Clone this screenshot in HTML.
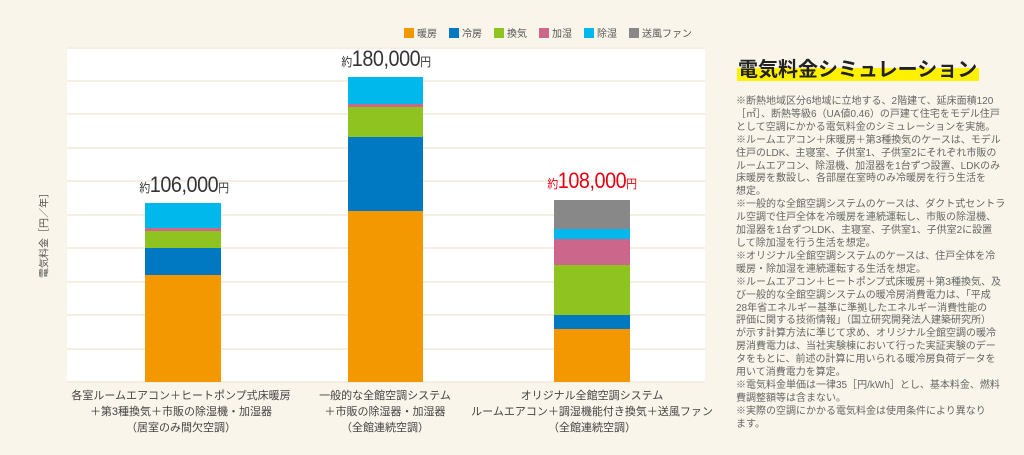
<!DOCTYPE html>
<html><head><meta charset="utf-8"><style>
body{margin:0;width:1024px;height:455px;background:#f9f5ea;position:relative;overflow:hidden;font-family:"Liberation Sans","Noto Sans CJK JP",sans-serif;}
.a{position:absolute;}
.plot{left:67px;top:47px;width:638px;height:335px;background:#fff;}
.g{position:absolute;left:0;width:638px;height:2px;background:#f5efe2;}
.seg{position:absolute;}
.leg{top:25px;font-size:10px;color:#555;white-space:nowrap;}
.leg span.s{display:inline-block;width:10px;height:10px;vertical-align:-1px;margin-right:3px;}
.leg b{font-weight:normal;margin-right:12px;}
.val{font-size:22px;color:#333;white-space:nowrap;transform:translateX(-50%) scaleX(0.9);font-weight:normal;letter-spacing:-0.5px}
.val small{font-size:12px;}
.xl{font-size:11px;color:#444;text-align:center;line-height:16px;white-space:nowrap;transform:translateX(-50%);}
.txt{left:736px;top:96px;font-size:10px;line-height:12.9px;color:#666;white-space:nowrap;}
</style></head><body>
<div class="a plot">
<div class="g" style="top:0"></div><div class="g" style="top:33px"></div><div class="g" style="top:66px"></div><div class="g" style="top:100px"></div><div class="g" style="top:133px"></div><div class="g" style="top:167px"></div><div class="g" style="top:200px"></div><div class="g" style="top:234px"></div><div class="g" style="top:267px"></div><div class="g" style="top:301px"></div><div class="g" style="top:334px"></div>
</div>
<!-- bar1 -->
<div class="a seg" style="left:145px;width:76px;top:203px;height:25px;background:#00b8ec"></div>
<div class="a seg" style="left:145px;width:76px;top:228px;height:3px;background:#cc668a"></div>
<div class="a seg" style="left:145px;width:76px;top:231px;height:17px;background:#8fc31f"></div>
<div class="a seg" style="left:145px;width:76px;top:248px;height:27px;background:#0079c2"></div>
<div class="a seg" style="left:145px;width:76px;top:275px;height:107px;background:#f39800"></div>
<!-- bar2 -->
<div class="a seg" style="left:348px;width:75px;top:77px;height:27px;background:#00b8ec"></div>
<div class="a seg" style="left:348px;width:75px;top:104px;height:3px;background:#cc668a"></div>
<div class="a seg" style="left:348px;width:75px;top:107px;height:30px;background:#8fc31f"></div>
<div class="a seg" style="left:348px;width:75px;top:137px;height:74px;background:#0079c2"></div>
<div class="a seg" style="left:348px;width:75px;top:211px;height:171px;background:#f39800"></div>
<!-- bar3 -->
<div class="a seg" style="left:554px;width:76px;top:200px;height:29px;background:#888"></div>
<div class="a seg" style="left:554px;width:76px;top:229px;height:10px;background:#00b8ec"></div>
<div class="a seg" style="left:554px;width:76px;top:239px;height:26px;background:#cc668a"></div>
<div class="a seg" style="left:554px;width:76px;top:265px;height:50px;background:#8fc31f"></div>
<div class="a seg" style="left:554px;width:76px;top:315px;height:14px;background:#0079c2"></div>
<div class="a seg" style="left:554px;width:76px;top:329px;height:53px;background:#f39800"></div>

<div class="a leg" style="left:404px"><span class="s" style="background:#f39800"></span><b>暖房</b><span class="s" style="background:#0079c2"></span><b>冷房</b><span class="s" style="background:#8fc31f"></span><b>換気</b><span class="s" style="background:#cc668a"></span><b>加湿</b><span class="s" style="background:#00b8ec"></span><b>除湿</b><span class="s" style="background:#888"></span><b style="margin:0">送風ファン</b></div>

<div class="a val" style="left:184px;top:172px"><small>約</small>106,000<small>円</small></div>
<div class="a val" style="left:386px;top:46px"><small>約</small>180,000<small>円</small></div>
<div class="a val" style="left:592px;top:168px;color:#e60012"><small>約</small>108,000<small>円</small></div>

<div class="a" style="left:43px;top:233px;transform:translate(-50%,-50%) rotate(-90deg);font-size:10px;color:#555;white-space:nowrap">電気料金［円／年］</div>

<div class="a xl" style="left:181px;top:388px">各室ルームエアコン＋ヒートポンプ式床暖房<br>＋第3種換気＋市販の除湿機・加湿器<br>（居室のみ間欠空調）</div>
<div class="a xl" style="left:385px;top:388px">一般的な全館空調システム<br>＋市販の除湿器・加湿器<br>（全館連続空調）</div>
<div class="a xl" style="left:592px;top:388px">オリジナル全館空調システム<br>ルームエアコン＋調湿機能付き換気＋送風ファン<br>（全館連続空調）</div>

<div class="a" style="left:737px;top:68px;width:242px;height:13px;background:#fff100"></div>
<div class="a" style="left:738px;top:53px;font-size:20px;font-weight:bold;color:#222;white-space:nowrap;">電気料金シミュレーション</div>

<div class="a txt">※断熱地域区分6地域に立地する、2階建て、延床面積120<br>［㎡］、断熱等級6（UA値0.46）の戸建て住宅をモデル住戸<br>として空調にかかる電気料金のシミュレーションを実施。<br>※ルームエアコン＋床暖房＋第3種換気のケースは、モデル<br>住戸のLDK、主寝室、子供室1、子供室2にそれぞれ市販の<br>ルームエアコン、除湿機、加湿器を1台ずつ設置、LDKのみ<br>床暖房を敷設し、各部屋在室時のみ冷暖房を行う生活を<br>想定。<br>※一般的な全館空調システムのケースは、ダクト式セントラ<br>ル空調で住戸全体を冷暖房を連続運転し、市販の除湿機、<br>加湿器を1台ずつLDK、主寝室、子供室1、子供室2に設置<br>して除加湿を行う生活を想定。<br>※オリジナル全館空調システムのケースは、住戸全体を冷<br>暖房・除加湿を連続運転する生活を想定。<br>※ルームエアコン＋ヒートポンプ式床暖房＋第3種換気、及<br>び一般的な全館空調システムの暖冷房消費電力は、「平成<br>28年省エネルギー基準に準拠したエネルギー消費性能の<br>評価に関する技術情報」（国立研究開発法人建築研究所）<br>が示す計算方法に準じて求め、オリジナル全館空調の暖冷<br>房消費電力は、当社実験棟において行った実証実験のデー<br>タをもとに、前述の計算に用いられる暖冷房負荷データを<br>用いて消費電力を算定。<br>※電気料金単価は一律35［円/kWh］とし、基本料金、燃料<br>費調整額等は含まない。<br>※実際の空調にかかる電気料金は使用条件により異なり<br>ます。</div>
</body></html>
